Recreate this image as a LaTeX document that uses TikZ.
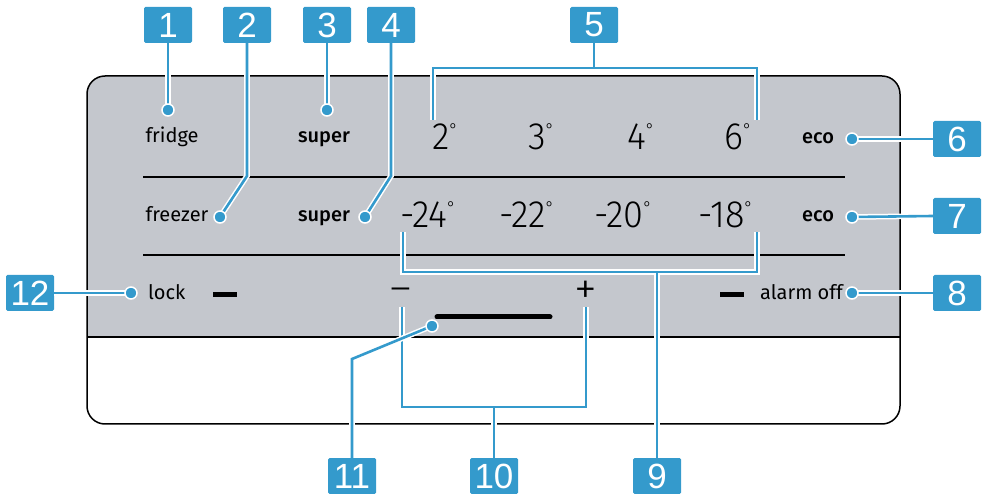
\documentclass[tikz,border=0pt]{standalone}
\usepackage{fontspec}
\setmainfont{Fira Sans}
\newfontfamily\lightfont{Fira Sans Light}
\newfontfamily\medfont{Fira Sans Medium}
\newfontfamily\boxfont{Liberation Sans}
\definecolor{panelgray}{RGB}{196,199,205}
\definecolor{calloutblue}{RGB}{52,154,204}
\newcommand{\tempval}[1]{\scalebox{0.95}[1]{\lightfont\fontsize{38}{38}\selectfont #1\raisebox{14pt}{\fontsize{17}{17}\selectfont °}}}
\begin{document}
\begin{tikzpicture}[x=1pt,y=-1pt,
  numbox/.style={fill=calloutblue, text=white, rounded corners=1.5pt, minimum width=48pt, minimum height=36pt, inner sep=0pt, font=\boxfont\fontsize{35}{35}\selectfont},
  callout/.style={draw=calloutblue, line width=2.6pt, preaction={draw=white, line width=5.6pt}},
  dotmark/.style={circle, fill=calloutblue, draw=white, line width=1.5pt, minimum size=12pt, inner sep=0pt},
  paneltext/.style={inner sep=0pt, anchor=base, font=\fontsize{20}{20}\selectfont},
  boldtext/.style={inner sep=0pt, anchor=base, font=\medfont\fontsize{20}{20}\selectfont},
  tempnum/.style={inner sep=0pt, anchor=base west},
  sepline/.style={line width=2pt},
  indbar/.style={line width=5pt}
]
\useasboundingbox (0,0) rectangle (986,494);
% panel
\fill[panelgray] (87,337) [rounded corners=18pt] -- (87,76) -- (900,76) [sharp corners] -- (900,337) -- cycle;
\draw[line width=1.5pt, rounded corners=18pt] (87,76) rectangle (900,424);
\draw[line width=1.5pt] (87,337) -- (900,337);
\draw[sepline] (143,177) -- (845,177);
\draw[sepline] (143,255) -- (845,255);
% texts
\node[paneltext] (tfridge) at (172,143) {fridge};
\node[boldtext] (tsuper1) at (324,143) {super};
\node[boldtext] (teco1) at (818,144) {eco};
\node[paneltext] (tfreezer) at (177,222) {freezer};
\node[boldtext] (tsuper2) at (324,222) {super};
\node[boldtext] (teco2) at (818,222) {eco};
\node[paneltext, anchor=base west] (tlock) at (148,300) {lock};
\node[paneltext, anchor=base east] (talarm) at (843,300) {alarm off};
\node[tempnum] (n2) at (432,150) {\tempval{2}};
\node[tempnum] (n3) at (528,150) {\tempval{3}};
\node[tempnum] (n4) at (627,150) {\tempval{4}};
\node[tempnum] (n6) at (724,150) {\tempval{6}};
\node[tempnum] (m24) at (400,228) {\tempval{-24}};
\node[tempnum] (m22) at (499,228) {\tempval{-22}};
\node[tempnum] (m20) at (594,228) {\tempval{-20}};
\node[tempnum] (m18) at (698,228) {\tempval{-18}};
\node[inner sep=0pt] (tminus) at (401,295) {\lightfont\fontsize{40}{40}\selectfont –};
\node[inner sep=0pt] (tplus) at (586,293) {\lightfont\fontsize{46}{46}\selectfont +};
\draw[indbar] (213,294.5) -- (237,294.5);
\draw[indbar] (720,294.5) -- (744,294.5);
\draw[line width=5pt, line cap=round] (437,317) -- (550,317);
% number boxes
\node[numbox] (b1) at (168,25) {1};
\node[numbox] (b2) at (247,25) {2};
\node[numbox] (b3) at (327,25) {3};
\node[numbox] (b4) at (391,25) {4};
\node[numbox] (b5) at (594,25) {5};
\node[numbox] (b6) at (957,139) {6};
\node[numbox] (b7) at (957,216) {7};
\node[numbox] (b8) at (957,293) {8};
\node[numbox] (b12) at (30,293) {12};
\node[numbox] (b11) at (352,476) {11};
\node[numbox] (b10) at (494,476) {10};
\node[numbox] (b9) at (657,476) {9};
% points
\coordinate (p1) at (168,110);
\coordinate (p3) at (327,110);
\coordinate (p2) at (220,217);
\coordinate (p4) at (365,217);
\coordinate (p6) at (852,139);
\coordinate (p7) at (852,217);
\coordinate (p8) at (852,293);
\coordinate (p12) at (131,293);
\coordinate (p11) at (432,326);
\coordinate (k2) at (247,176);
\coordinate (k4) at (391,176);
\coordinate (k11) at (352,359);
\coordinate (e5l) at (433,120);
\coordinate (e5r) at (757,120);
\coordinate (j5) at (594,68);
\coordinate (e9l) at (403,232);
\coordinate (e9r) at (757,232);
\coordinate (j9) at (657,272);
\coordinate (e10l) at (402,307);
\coordinate (e10r) at (586,307);
\coordinate (j10) at (494,407);
% connectors
\draw[callout] (b1.south) -- (p1);
\draw[callout] (b3.south) -- (p3);
\draw[callout] (b2.south) -- (k2) -- (p2);
\draw[callout] (b4.south) -- (k4) -- (p4);
\draw[callout] (p6) -- (b6.west);
\draw[callout] (p7) -- (b7.west);
\draw[callout] (p8) -- (b8.west);
\draw[callout] (p12) -- (b12.east);
\draw[callout] (e5l) |- (j5) -| (e5r) (j5) -- (b5.south);
\draw[callout] (e9l) |- (j9) -| (e9r) (j9) -- (b9.north);
\draw[callout] (e10l) |- (j10) -| (e10r) (j10) -- (b10.north);
\draw[callout] (p11) -- (k11) -- (b11.north);
% dots
\foreach \p in {p1,p2,p3,p4,p6,p7,p8,p12,p11} \node[dotmark] at (\p) {};
\end{tikzpicture}
\end{document}
